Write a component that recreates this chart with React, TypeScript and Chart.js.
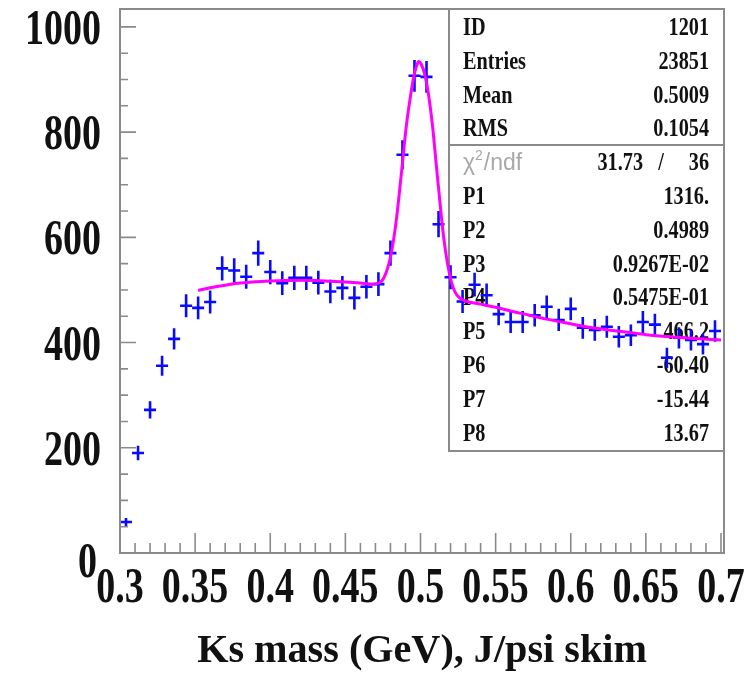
import React, { useEffect, useRef } from 'react';
import { Chart, registerables } from 'chart.js';

Chart.register(...registerables);

// Histogram: 50 bins of 0.008 GeV starting at 0.3 GeV
const BIN_LOW = 0.3;
const BIN_WIDTH = 0.008;
const COUNTS = [
  59, 190, 272, 356, 407, 470, 466, 477,
  541, 537, 525, 570, 534, 513, 523, 523,
  514, 497, 504, 485, 506, 511, 570, 757,
  907, 905, 625, 524, 478, 510, 490, 454,
  439, 439, 452, 468, 443, 464, 428, 424,
  430, 411, 414, 439, 434, 371, 409, 405, 397, 422,
];

// Fitted function (gaussian peak on a smooth background), sampled along the curve
const FIT_X = [
  0.352, 0.36, 0.37, 0.38, 0.39, 0.40, 0.41, 0.42, 0.43, 0.44, 0.45, 0.46, 0.468,
  0.473, 0.477, 0.4807, 0.484, 0.4874, 0.4905, 0.493, 0.4955, 0.4975, 0.4988,
  0.5005, 0.503, 0.5055, 0.508, 0.5105, 0.513, 0.5155, 0.518, 0.5205, 0.523,
  0.526, 0.53, 0.54, 0.55, 0.56, 0.5725, 0.583, 0.594, 0.61, 0.625, 0.639,
  0.65, 0.661, 0.68, 0.70,
];
const FIT_Y = [
  499, 504, 509, 513, 515.5, 517, 518, 518.5, 518, 516.5, 515, 513, 511,
  514, 532, 572, 635, 725, 810, 862, 905, 927, 934,
  929, 908, 868, 812, 738, 665, 598, 550, 516, 496,
  485, 479, 473, 467, 460, 452, 445, 439, 430, 424, 419,
  415, 412, 408, 405,
];

const X_MIN = 0.3;
const X_MAX = 0.702;
const Y_MIN = 0;
const Y_MAX = 1034;

const X_TICK_VALUES = [0.3, 0.35, 0.4, 0.45, 0.5, 0.55, 0.6, 0.65, 0.7];
const X_TICK_LABELS = ['0.3', '0.35', '0.4', '0.45', '0.5', '0.55', '0.6', '0.65', '0.7'];
const Y_TICK_VALUES = [0, 200, 400, 600, 800, 1000];
const Y_TICK_LABELS = ['0', '200', '400', '600', '800', '1000'];

const X_TITLE = 'Ks mass (GeV), J/psi skim';

const STAT_LABELS = ['ID', 'Entries', 'Mean', 'RMS'];
const STAT_VALUES = ['1201', '23851', '0.5009', '0.1054'];
const CHI2_VALUE = '31.73';
const NDF_VALUE = '36';
const PAR_LABELS = ['P1', 'P2', 'P3', 'P4', 'P5', 'P6', 'P7', 'P8'];
const PAR_VALUES = ['1316.', '0.4989', '0.9267E-02', '0.5475E-01', '466.2', '-60.40', '-15.44', '13.67'];

const SERIF = '"Liberation Serif", "Times New Roman", serif';
const SANS = '"Liberation Sans", Arial, sans-serif';
const FRAME_COLOR = '#8a8a8a';
const HIST_COLOR = '#0a0aff';
const FIT_COLOR = '#ff00ff';
const AXIS_FONT = `bold 38px ${SERIF}`;
const AXIS_STRETCH = 1.32;

function drawText(
  ctx: CanvasRenderingContext2D,
  text: string,
  x: number,
  y: number,
  font: string,
  color: string,
  align: CanvasTextAlign,
  sx = 1,
  sy = 1,
) {
  ctx.save();
  ctx.translate(x, y);
  ctx.scale(sx, sy);
  ctx.font = font;
  ctx.fillStyle = color;
  ctx.textAlign = align;
  ctx.textBaseline = 'alphabetic';
  ctx.fillText(text, 0, 0);
  ctx.restore();
}

// Stats box, error-bar crosses, frame, ticks and labels in ROOT style
const histPlugin = {
  id: 'rootStyle',
  beforeDatasetsDraw(chart: any) {
    const ctx: CanvasRenderingContext2D = chart.ctx;
    const area = chart.chartArea;
    const xs = chart.scales.x;
    const ys = chart.scales.y;

    // stats box (unfilled, marks are drawn over it)
    const boxL = 449;
    const boxB = 451;
    const divY = 145;
    ctx.save();
    ctx.strokeStyle = FRAME_COLOR;
    ctx.lineWidth = 2;
    ctx.beginPath();
    ctx.moveTo(boxL, area.top);
    ctx.lineTo(boxL, boxB);
    ctx.lineTo(area.right, boxB);
    ctx.moveTo(boxL, divY);
    ctx.lineTo(area.right, divY);
    ctx.stroke();
    ctx.restore();

    const statFont = `bold 25px ${SERIF}`;
    const sx = 0.81;
    const labelX = 463;
    const valueX = 709;
    const row0 = 35;
    const rowH = 33.8;
    STAT_LABELS.forEach((lab, i) => {
      drawText(ctx, lab, labelX, row0 + rowH * i, statFont, '#111', 'left', sx);
      drawText(ctx, STAT_VALUES[i], valueX, row0 + rowH * i, statFont, '#111', 'right', sx);
    });
    // chi2 / ndf row
    const chiY = row0 + rowH * 4;
    ctx.save();
    ctx.font = `23px ${SANS}`;
    ctx.fillStyle = '#a8a8a8';
    ctx.textBaseline = 'alphabetic';
    ctx.textAlign = 'left';
    ctx.fillText('\u03c7', labelX, chiY);
    let cx = labelX + ctx.measureText('\u03c7').width;
    ctx.font = `14px ${SANS}`;
    ctx.fillText('2', cx, chiY - 10);
    cx += ctx.measureText('2').width + 1;
    ctx.font = `23px ${SANS}`;
    ctx.fillText('/ndf', cx, chiY);
    ctx.restore();
    drawText(ctx, CHI2_VALUE, 643, chiY, statFont, '#111', 'right', sx);
    drawText(ctx, '/', 661, chiY, statFont, '#111', 'center', sx);
    drawText(ctx, NDF_VALUE, valueX, chiY, statFont, '#111', 'right', sx);
    PAR_LABELS.forEach((lab, i) => {
      const y = row0 + rowH * (5 + i);
      drawText(ctx, lab, labelX, y, statFont, '#111', 'left', sx);
      drawText(ctx, PAR_VALUES[i], valueX, y, statFont, '#111', 'right', sx);
    });

    // histogram crosses: bin width horizontally, sqrt(N) vertically
    const data = chart.data.datasets[1].data as { x: number; y: number }[];
    ctx.save();
    ctx.beginPath();
    ctx.rect(area.left, area.top, area.right - area.left, area.bottom - area.top);
    ctx.clip();
    ctx.strokeStyle = HIST_COLOR;
    ctx.lineWidth = 2.6;
    ctx.beginPath();
    data.forEach((p) => {
      const err = Math.sqrt(p.y);
      const px = xs.getPixelForValue(p.x);
      const py = ys.getPixelForValue(p.y);
      const x0 = xs.getPixelForValue(p.x - BIN_WIDTH / 2);
      const x1 = xs.getPixelForValue(p.x + BIN_WIDTH / 2);
      const y0 = ys.getPixelForValue(p.y - err);
      const y1 = ys.getPixelForValue(p.y + err);
      ctx.moveTo(x0, py);
      ctx.lineTo(x1, py);
      ctx.moveTo(px, y0);
      ctx.lineTo(px, y1);
    });
    ctx.stroke();
    ctx.restore();
  },
  afterDraw(chart: any) {
    const ctx: CanvasRenderingContext2D = chart.ctx;
    const area = chart.chartArea;
    const xs = chart.scales.x;
    const ys = chart.scales.y;

    ctx.save();
    ctx.strokeStyle = FRAME_COLOR;
    ctx.lineWidth = 1.6;
    ctx.beginPath();
    // x ticks: minor every 0.01, major every 0.05 (inside the frame)
    for (let i = 30; i <= 70; i++) {
      const px = xs.getPixelForValue(i / 100);
      const len = i % 5 === 0 ? 20 : 10;
      ctx.moveTo(px, area.bottom);
      ctx.lineTo(px, area.bottom - len);
    }
    // y ticks: minor every 50, major every 200
    for (let v = 0; v <= 1000; v += 50) {
      const py = ys.getPixelForValue(v);
      const len = v % 200 === 0 ? 16 : 8;
      ctx.moveTo(area.left, py);
      ctx.lineTo(area.left + len, py);
    }
    ctx.stroke();
    ctx.lineWidth = 2;
    ctx.strokeRect(area.left, area.top, area.right - area.left, area.bottom - area.top);
    ctx.restore();

    // x tick labels (tall bold serif)
    X_TICK_VALUES.forEach((v, i) => {
      const px = xs.getPixelForValue(v);
      drawText(ctx, X_TICK_LABELS[i], px, 602, AXIS_FONT, '#111', 'center', 1, AXIS_STRETCH);
    });
    // y tick labels, centred on their ticks; the zero sits a little lower and left
    Y_TICK_VALUES.forEach((v, i) => {
      const py = ys.getPixelForValue(v);
      if (v === 0) {
        drawText(ctx, Y_TICK_LABELS[i], 97, py + 24, AXIS_FONT, '#111', 'right', 1, AXIS_STRETCH);
      } else {
        drawText(ctx, Y_TICK_LABELS[i], 101, py + 17, AXIS_FONT, '#111', 'right', 1, AXIS_STRETCH);
      }
    });
    // axis title
    drawText(ctx, X_TITLE, (area.left + area.right) / 2, 662, `bold 39px ${SERIF}`, '#111', 'center', 1.03);
  },
};

export default function App() {
  const canvasRef = useRef<HTMLCanvasElement>(null);

  useEffect(() => {
    document.body.style.margin = '0';
    const canvas = canvasRef.current;
    if (!canvas) return;

    const histPoints = COUNTS.map((c, i) => ({ x: BIN_LOW + BIN_WIDTH * (i + 0.5), y: c }));
    const fitPoints = FIT_X.map((x, i) => ({ x, y: FIT_Y[i] }));

    const chart = new Chart(canvas, {
      type: 'scatter',
      data: {
        datasets: [
          {
            label: 'fit',
            data: fitPoints,
            showLine: true,
            borderColor: FIT_COLOR,
            borderWidth: 3,
            pointRadius: 0,
            cubicInterpolationMode: 'monotone',
          } as any,
          {
            label: 'Ks mass',
            data: histPoints,
            showLine: false,
            pointRadius: 0,
            borderColor: HIST_COLOR,
          },
        ],
      },
      options: {
        animation: false,
        responsive: false,
        devicePixelRatio: 1,
        layout: { padding: { left: 120, top: 9, right: 30, bottom: 126 } },
        plugins: {
          legend: { display: false },
          tooltip: { enabled: false },
        },
        scales: {
          x: { type: 'linear', min: X_MIN, max: X_MAX, display: false },
          y: { type: 'linear', min: Y_MIN, max: Y_MAX, display: false },
        },
      },
      plugins: [histPlugin],
    });

    return () => chart.destroy();
  }, []);

  return (
    <div style={{ width: 754, height: 679, background: '#ffffff' }}>
      <canvas ref={canvasRef} width={754} height={679} style={{ display: 'block' }} />
    </div>
  );
}
